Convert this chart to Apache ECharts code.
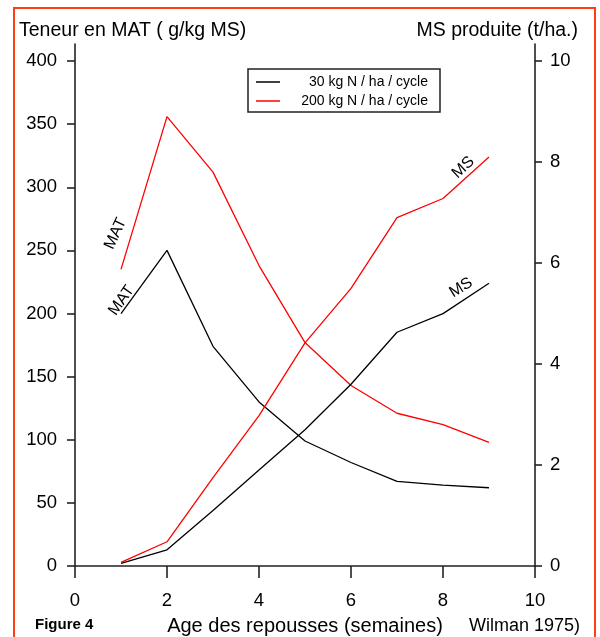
<!DOCTYPE html>
<html>
<head>
<meta charset="utf-8">
<script src="https://cdn.jsdelivr.net/npm/echarts@6/dist/echarts.min.js"></script>
<style>
  html, body { margin: 0; padding: 0; background: #fff; overflow: hidden; }
  #frame { position: absolute; left: 13px; top: 7px; width: 579px; height: 700px; border: 2px solid #ff3d17; }
  #chart { position: absolute; left: 0; top: 0; width: 600px; height: 637px; }
</style>
</head>
<body>
<div id="frame"></div>
<div id="chart"></div>
<script>
// ---- data ----
const weeks   = [1, 2, 3, 4, 5, 6, 7, 8, 9];
const mat30   = [200, 250, 174, 130, 99, 82, 67, 64, 62];      // g/kg MS, 30 kg N
const mat200  = [235, 356, 312, 238, 177, 143, 121, 112, 98];  // g/kg MS, 200 kg N
const ms30    = [0.05, 0.32, 1.1, 1.9, 2.7, 3.6, 4.63, 5.0, 5.6];   // t/ha, 30 kg N
const ms200   = [0.07, 0.48, 1.75, 2.98, 4.42, 5.5, 6.9, 7.28, 8.1]; // t/ha, 200 kg N
const xTicks  = [0, 2, 4, 6, 8, 10];
const matTicks = [0, 50, 100, 150, 200, 250, 300, 350, 400];
const msTicks  = [0, 2, 4, 6, 8, 10];
const name30  = '30 kg N / ha / cycle';
const name200 = '200 kg N / ha / cycle';
const yLeftTitle  = 'Teneur en MAT ( g/kg MS)';
const yRightTitle = 'MS produite (t/ha.)';
const xTitle = 'Age des repousses (semaines)';
const figLabel = 'Figure 4';
const source = 'Wilman 1975)';

const FONT = "'Liberation Sans', Arial, sans-serif";

function build(ys, tag) {
  return weeks.map((w, i) => {
    const item = { value: [w, ys[i]] };
    if (tag && tag.index === i) {
      item.label = {
        show: true, formatter: tag.text, position: 'inside',
        rotate: tag.rotate, offset: tag.offset,
        color: '#000', fontSize: 16, fontFamily: FONT,
        align: 'center', verticalAlign: 'middle'
      };
    }
    return item;
  });
}

const axisLineStyle = { color: '#222', width: 1.6 };

const option = {
  animation: false,
  backgroundColor: 'transparent',
  textStyle: { fontFamily: FONT },
  title: [
    { text: yLeftTitle, left: 19, top: 21, padding: 0,
      textStyle: { fontSize: 19.5, fontWeight: 'normal', color: '#000', fontFamily: FONT } },
    { text: yRightTitle, right: 22, top: 21, padding: 0,
      textStyle: { fontSize: 19.5, fontWeight: 'normal', color: '#000', fontFamily: FONT } },
    { text: figLabel, left: 35, top: 617, padding: 0,
      textStyle: { fontSize: 15, fontWeight: 'bold', color: '#000', fontFamily: FONT } },
    { text: source, right: 20, top: 617, padding: 0,
      textStyle: { fontSize: 18, fontWeight: 'normal', color: '#000', fontFamily: FONT } }
  ],
  legend: {
    orient: 'vertical', left: 248, top: 69,
    data: [name30, name200],
    icon: 'rect', itemWidth: 24, itemHeight: 1.5, itemGap: 5,
    padding: [6, 12, 4, 8],
    borderColor: '#222', borderWidth: 1.5, backgroundColor: '#fff',
    selectedMode: false,
    formatter: '{t|{name}}',
    textStyle: {
      color: '#000', fontSize: 14, fontFamily: FONT,
      rich: { t: { width: 143, align: 'right', fontSize: 14, fontFamily: FONT, color: '#000' } }
    }
  },
  grid: { left: 75, right: 65, top: 44, bottom: 71, outerBoundsMode: 'none', containLabel: false },
  xAxis: {
    type: 'value', min: 0, max: 10, interval: 2,
    name: xTitle, nameLocation: 'middle', nameGap: 50,
    nameTextStyle: { fontSize: 20, color: '#000', fontFamily: FONT },
    axisLine: { show: true, onZero: false, lineStyle: axisLineStyle },
    axisTick: { show: true, inside: false, length: 12, lineStyle: axisLineStyle, customValues: xTicks },
    axisLabel: { show: true, fontSize: 18.5, color: '#000', margin: 25, customValues: xTicks },
    splitLine: { show: false }
  },
  yAxis: [
    {
      type: 'value', min: 0, max: 413.5, interval: 50, position: 'left',
      axisLine: { show: true, onZero: false, lineStyle: axisLineStyle },
      axisTick: { show: true, inside: false, length: 8, lineStyle: axisLineStyle, customValues: matTicks },
      axisLabel: { show: true, fontSize: 18.5, color: '#000', margin: 18, customValues: matTicks },
      splitLine: { show: false }
    },
    {
      type: 'value', min: 0, max: 10.34, interval: 2, position: 'right',
      axisLine: { show: true, onZero: false, lineStyle: axisLineStyle },
      axisTick: { show: true, inside: false, length: 7, lineStyle: axisLineStyle, customValues: msTicks },
      axisLabel: { show: true, fontSize: 18.5, color: '#000', margin: 15, customValues: msTicks },
      splitLine: { show: false }
    }
  ],
  series: [
    { name: name30, type: 'line', yAxisIndex: 0, color: '#000',
      symbol: 'circle', symbolSize: 0, showSymbol: true,
      lineStyle: { color: '#000', width: 1.3 },
      data: build(mat30, { index: 0, text: 'MAT', rotate: 55, offset: [11, -7] }) },
    { name: name200, type: 'line', yAxisIndex: 0, color: '#ff0000',
      symbol: 'circle', symbolSize: 0, showSymbol: true,
      lineStyle: { color: '#ff0000', width: 1.3 },
      data: build(mat200, { index: 0, text: 'MAT', rotate: 65, offset: [30, -20] }) },
    { name: name30, type: 'line', yAxisIndex: 1, color: '#000',
      symbol: 'circle', symbolSize: 0, showSymbol: true,
      lineStyle: { color: '#000', width: 1.3 },
      data: build(ms30, { index: 8, text: 'MS', rotate: 32, offset: [-26, -11] }) },
    { name: name200, type: 'line', yAxisIndex: 1, color: '#ff0000',
      symbol: 'circle', symbolSize: 0, showSymbol: true,
      lineStyle: { color: '#ff0000', width: 1.3 },
      data: build(ms200, { index: 8, text: 'MS', rotate: 43, offset: [-26, -10] }) }
  ]
};

const chart = echarts.init(document.getElementById('chart'), null, { renderer: 'canvas' });
chart.setOption(option);
</script>
</body>
</html>
